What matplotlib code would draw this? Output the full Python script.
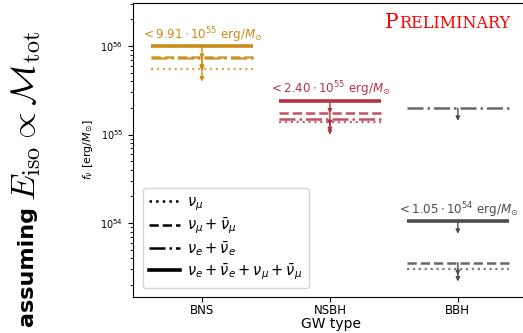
import numpy as np
import matplotlib
matplotlib.use("Agg")
import matplotlib.pyplot as plt

# data (erg / M_sun)
gw_types = ["BNS", "NSBH", "BBH"]
f_numu = [5.5e55, 1.38e55, 3.03e53]          # dotted
f_numu_bar = [7.5e55, 1.76e55, 3.56e53]      # dashed
f_nue_bar = [7.3e55, 1.48e55, 1.98e55]       # dash-dot
f_all = [9.91e55, 2.40e55, 1.05e54]          # solid
limit_labels = [r"$< 9.91 \cdot 10^{55}$ erg/$M_{\odot}$",
                r"$< 2.40 \cdot 10^{55}$ erg/$M_{\odot}$",
                r"$< 1.05 \cdot 10^{54}$ erg/$M_{\odot}$"]
colors = ["#c98c18", "#b83245", "#4d4d4d"]

plt.rcParams["mathtext.fontset"] = "dejavusans"

fig = plt.figure(figsize=(5.23, 3.33), dpi=100)
ax = fig.add_axes([0.254, 0.108, 0.756, 0.883])

hw = 0.4
styles = [(f_numu, ":", 1.6, 0.75), (f_numu_bar, "--", 1.8, 0.85),
          (f_nue_bar, "-.", 1.8, 0.85), (f_all, "-", 2.6, 1.0)]

for i, name in enumerate(gw_types):
    for vals, ls, lw, a in styles:
        y = vals[i]
        ax.hlines(y, i - hw, i + hw, colors=colors[i], linestyles=ls, lw=lw, alpha=a)
        ax.annotate("", xy=(i, y * 0.72), xytext=(i, y),
                    arrowprops=dict(arrowstyle="-|>", color=colors[i], lw=1.0,
                                    mutation_scale=6, shrinkA=0, shrinkB=0))
    ax.text(i, f_all[i] * 1.04, limit_labels[i], color=colors[i], fontsize=8.6,
            ha="center", va="bottom")

# legend handles
for ls, lw, lab in [(":", 1.8, r"$\nu_\mu$"), ("--", 1.8, r"$\nu_\mu + \bar{\nu}_\mu$"),
                    ("-.", 1.8, r"$\nu_e + \bar{\nu}_e$"),
                    ("-", 2.6, r"$\nu_e + \bar{\nu}_e + \nu_\mu + \bar{\nu}_\mu$")]:
    ax.plot([], [], color="black", ls=ls, lw=lw, label=lab)
ax.legend(loc="lower left", fontsize=10.5, handlelength=2.1, handletextpad=0.5,
          frameon=True, edgecolor="#cccccc", borderpad=0.45, labelspacing=0.2,
          bbox_to_anchor=(0.006, 0.005))

ax.set_yscale("log")
ax.set_ylim(10**53.164, 10**56.486)
ax.set_xlim(-0.54, 2.55)
ax.set_xticks(range(len(gw_types)))
ax.set_xticklabels(gw_types, fontsize=8.5)
ax.tick_params(axis="x", pad=1.5)
ax.tick_params(axis="y", labelsize=7)
ax.set_xlabel("GW type", fontsize=10, labelpad=0)
ax.set_ylabel(r"$f_\nu$ [erg/$M_{\odot}$]", fontsize=8, labelpad=4)

fig.text(27 / 523, 1 - 326 / 333, "assuming", rotation=90, fontsize=16,
         fontweight="bold", va="bottom", ha="center")
fig.text(26 / 523, 1 - 201 / 333, r"$E_{\rm iso} \propto \mathcal{M}_{\rm tot}$",
         rotation=90, fontsize=25, va="bottom", ha="center", math_fontfamily="cm")

fig.text(0.736, 0.915, "P", color="red", fontsize=14.5, family="DejaVu Serif")
fig.text(0.763, 0.915, "RELIMINARY", color="red", fontsize=11.5, family="DejaVu Serif")

fig.savefig("out.png", dpi=100)
